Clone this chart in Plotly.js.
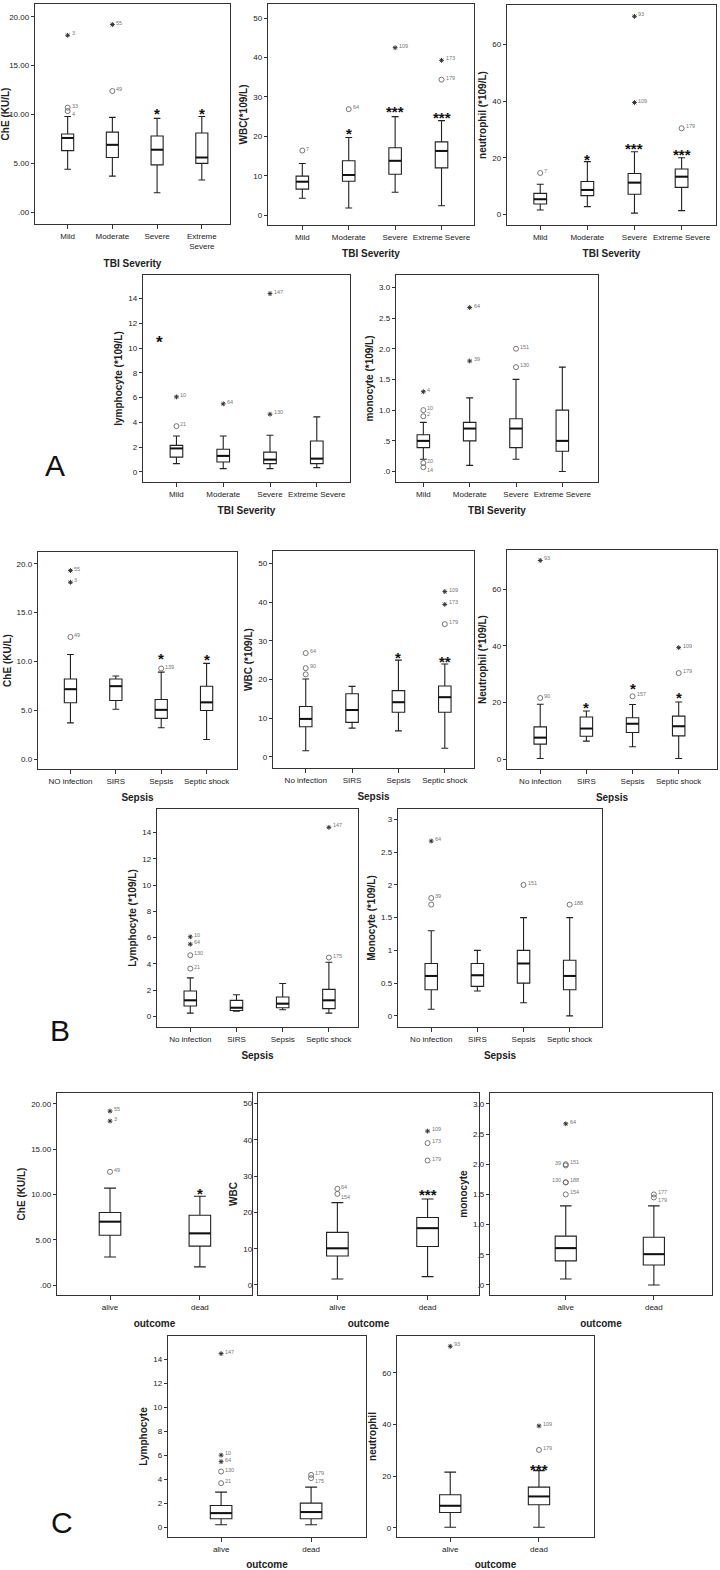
<!DOCTYPE html>
<html>
<head>
<meta charset="utf-8">
<script src="https://cdn.plot.ly/plotly-3.0.1.min.js"></script>
<style>
  body { margin: 0; background: #fff; }
  #chart { width: 720px; height: 1570px; }
</style>
</head>
<body>
<div id="chart"></div>
<script>
// ---- categories / tick labels ----
const tbiCats = ['Mild', 'Moderate', 'Severe', 'Extreme Severe'];
const tbiCatsWrap = ['Mild', 'Moderate', 'Severe', 'Extreme<br>Severe'];
const sepsisCats = ['No infection', 'SIRS', 'Sepsis', 'Septic shock'];
const sepsisCatsNo = ['NO infection', 'SIRS', 'Sepsis', 'Septic shock'];
const outcomeCats = ['alive', 'dead'];

const cheVals = [0, 5, 10, 15, 20];
const cheText2 = ['.00', '5.00', '10.00', '15.00', '20.00'];
const cheText1 = ['0.0', '5.0', '10.0', '15.0', '20.0'];
const wbcVals = [0, 10, 20, 30, 40, 50];
const neuVals = [0, 20, 40, 60];
const lymVals = [0, 2, 4, 6, 8, 10, 12, 14];
const monVals = [0, 0.5, 1, 1.5, 2, 2.5, 3];
const monTextA = ['.0', '.5', '1.0', '1.5', '2.0', '2.5', '3.0'];
const monTextB = ['0', '0.5', '1', '1.5', '2', '2.5', '3'];

// ---- box statistics: [lower whisker, q1, median, q3, upper whisker] ----
// outliers: [group, value, 'o' = outlier | 's' = extreme | 'S' = bold star, case label, label side ('b' below, 'l' left)]
// significance: [group, y, stars]

// A: TBI severity
const cheTbi = [[4.4, 6.3, 7.6, 8.0, 9.8], [3.7, 5.6, 6.9, 8.2, 9.7], [2.0, 4.85, 6.4, 7.8, 9.6], [3.3, 5.0, 5.6, 8.1, 9.8]];
const cheTbiOut = [[0, 18.1, 's', '3'], [0, 10.7, 'o', '33'], [0, 10.35, 'o', '4', 'b'], [1, 19.2, 's', '55'], [1, 12.4, 'o', '49']];
const cheTbiSig = [[2, 10.5, '*'], [3, 10.5, '*']];

const wbcTbi = [[4.3, 6.6, 8.5, 9.9, 13.1], [1.8, 8.6, 10.2, 13.8, 19.7], [5.8, 10.4, 13.8, 17.1, 25.0], [2.4, 12.0, 16.3, 18.6, 24.0]];
const wbcTbiOut = [[0, 16.4, 'o', '7'], [1, 26.9, 'o', '64'], [2, 42.5, 's', '109'], [3, 39.3, 's', '173'], [3, 34.4, 'o', '179']];
const wbcTbiSig = [[1, 21.8, '*'], [2, 27.4, '***'], [3, 25.8, '***']];

const neuTbi = [[1.5, 3.6, 5.3, 7.4, 10.6], [2.7, 6.6, 8.6, 11.6, 18.6], [0.4, 7.1, 11.2, 14.4, 22.1], [1.3, 9.5, 13.3, 16.0, 20.0]];
const neuTbiOut = [[0, 14.6, 'o', '7'], [2, 70.0, 's', '93'], [2, 39.5, 's', '109'], [3, 30.4, 'o', '179']];
const neuTbiSig = [[1, 20.8, '*'], [2, 24.7, '***'], [3, 22.5, '***']];

const lymTbi = [[0.67, 1.2, 1.9, 2.15, 2.9], [0.27, 0.8, 1.3, 1.83, 2.9], [0.27, 0.67, 1.0, 1.6, 2.96], [0.35, 0.67, 1.08, 2.5, 4.45]];
const lymTbiOut = [[-0.36, 10.8, 'S', ''], [0, 6.06, 's', '10'], [0, 3.7, 'o', '21'], [1, 5.5, 's', '64'], [2, 14.4, 's', '147'], [2, 4.66, 's', '130']];
const lymTbiSig = [];

const monTbi = [[0.2, 0.39, 0.5, 0.6, 0.8], [0.1, 0.5, 0.7, 0.8, 1.2], [0.2, 0.39, 0.7, 0.86, 1.5], [0.0, 0.33, 0.5, 1.0, 1.7]];
const monTbiOut = [[0, 1.3, 's', '4'], [0, 1.0, 'o', '10'], [0, 0.9, 'o', '2'], [0, 0.14, 'o', '20'], [0, 0.07, 'o', '14', 'b'], [1, 2.67, 's', '64'], [1, 1.8, 's', '39'], [2, 2.0, 'o', '151'], [2, 1.7, 'o', '130']];
const monTbiSig = [];

// B: sepsis
const cheSep = [[3.7, 5.76, 7.15, 8.2, 10.7], [5.1, 6.0, 7.46, 8.2, 8.5], [3.2, 4.16, 5.04, 6.1, 8.9], [2.0, 4.97, 5.8, 7.46, 9.8]];
const cheSepOut = [[0, 19.3, 's', '55'], [0, 18.1, 's', '3'], [0, 12.5, 'o', '49'], [2, 9.27, 'o', '139']];
const cheSepSig = [[2, 10.7, '*'], [3, 10.6, '*']];

const wbcSep = [[1.55, 7.75, 9.8, 13.0, 20.1], [7.4, 8.9, 12.1, 16.3, 18.2], [6.7, 11.5, 14.1, 17.1, 25.0], [2.2, 11.5, 15.4, 18.3, 24.0]];
const wbcSepOut = [[0, 26.8, 'o', '64'], [0, 22.9, 'o', '90'], [0, 21.3, 'o', ''], [3, 42.7, 's', '109'], [3, 39.4, 's', '173'], [3, 34.3, 'o', '179']];
const wbcSepSig = [[2, 26.8, '*'], [3, 25.6, '**']];

const neuSep = [[0.2, 5.3, 7.6, 11.4, 19.4], [6.35, 8.1, 10.8, 14.9, 17.0], [4.35, 9.4, 12.5, 14.6, 19.3], [0.2, 8.2, 11.6, 15.2, 20.2]];
const neuSepOut = [[0, 70.2, 's', '93'], [0, 21.6, 'o', '90'], [2, 22.2, 'o', '157'], [3, 39.4, 's', '109'], [3, 30.4, 'o', '179']];
const neuSepSig = [[1, 19.6, '*'], [2, 26.5, '*'], [3, 23.2, '*']];

const lymSep = [[0.25, 0.79, 1.22, 1.93, 2.93], [0.4, 0.45, 0.66, 1.22, 1.65], [0.5, 0.66, 0.97, 1.48, 2.5], [0.25, 0.59, 1.22, 2.06, 4.12]];
const lymSepOut = [[0, 6.06, 's', '10'], [0, 5.5, 's', '64'], [0, 4.66, 'o', '130'], [0, 3.64, 'o', '21'], [3, 14.4, 's', '147'], [3, 4.48, 'o', '175']];
const lymSepSig = [];

const monSep = [[0.1, 0.4, 0.61, 0.8, 1.3], [0.38, 0.45, 0.62, 0.8, 1.0], [0.2, 0.5, 0.8, 1.0, 1.5], [0.0, 0.4, 0.61, 0.85, 1.5]];
const monSepOut = [[0, 2.67, 's', '64'], [0, 1.8, 'o', '39'], [0, 1.7, 'o', ''], [2, 2.0, 'o', '151'], [3, 1.7, 'o', '188']];
const monSepSig = [];

// C: outcome
const cheOut = [[3.1, 5.5, 7.0, 8.0, 10.7], [2.0, 4.3, 5.7, 7.7, 9.8]];
const cheOutOut = [[0, 19.2, 's', '55'], [0, 18.1, 's', '3'], [0, 12.5, 'o', '49']];
const cheOutSig = [[1, 10.5, '*']];

const wbcOut = [[1.66, 8.0, 10.1, 14.5, 22.7], [2.3, 10.6, 15.65, 18.6, 23.7]];
const wbcOutOut = [[0, 26.5, 'o', '64'], [0, 25.1, 'o', '154', 'b'], [1, 42.4, 's', '109'], [1, 39.1, 'o', '173'], [1, 34.3, 'o', '179']];
const wbcOutSig = [[1, 26.0, '***']];

const monOut = [[0.1, 0.4, 0.61, 0.81, 1.31], [0.0, 0.33, 0.51, 0.79, 1.31]];
const monOutOut = [[0, 2.67, 's', '64'], [0, 2.0, 'o', '151'], [0, 1.98, 'o', '39', 'l'], [0, 1.7, 'o', '188'], [0, 1.7, 'o', '130', 'l'], [0, 1.5, 'o', '154'], [1, 1.5, 'o', '177'], [1, 1.45, 'o', '179', 'b']];
const monOutSig = [];

const lymOut = [[0.19, 0.69, 1.16, 1.8, 2.91], [0.19, 0.69, 1.25, 2.0, 3.33]];
const lymOutOut = [[0, 14.47, 's', '147'], [0, 6.0, 's', '10'], [0, 5.46, 's', '64'], [0, 4.63, 'o', '130'], [0, 3.66, 'o', '21'], [1, 4.35, 'o', '179'], [1, 4.08, 'o', '175', 'b']];
const lymOutSig = [];

const neuOut = [[0.26, 6.0, 8.6, 12.85, 21.6], [0.26, 9.0, 12.2, 15.8, 22.2]];
const neuOutOut = [[0, 70.3, 's', '93'], [1, 39.5, 's', '109'], [1, 30.2, 'o', '179']];
const neuOutSig = [[1, 24.2, '***']];

// ---- page setup ----
const W = 720, H = 1570;
const SANS = 'Liberation Sans, Arial, sans-serif';

// frame = [left, right, top, bottom] of each plot area in px
const panels = [
  {stats: cheTbi, out: cheTbiOut, sig: cheTbiSig, cats: tbiCatsWrap, frame: [35, 230, 4, 224], xr: [-0.73, 3.63], yr: [-1.2, 21.3], tv: cheVals, tt: cheText2, ytitle: 'ChE (KU/L)', xtitle: 'TBI Severity'},
  {stats: wbcTbi, out: wbcTbiOut, sig: wbcTbiSig, cats: tbiCats, frame: [268, 474, 4, 225], xr: [-0.74, 3.7], yr: [-2.5, 53.6], tv: wbcVals, ytitle: 'WBC(*109/L)', xtitle: 'TBI Severity'},
  {stats: neuTbi, out: neuTbiOut, sig: neuTbiSig, cats: tbiCats, frame: [507, 716, 5, 225], xr: [-0.705, 3.73], yr: [-3.8, 74], tv: neuVals, ytitle: 'neutrophil (*109/L)', xtitle: 'TBI Severity'},
  {stats: lymTbi, out: lymTbiOut, sig: lymTbiSig, cats: tbiCats, frame: [143, 350, 275, 482], xr: [-0.715, 3.71], yr: [-0.81, 15.9], tv: lymVals, ytitle: 'lymphocyte (*109/L)', xtitle: 'TBI Severity'},
  {stats: monTbi, out: monTbiOut, sig: monTbiSig, cats: tbiCats, frame: [396, 598, 275, 482], xr: [-0.59, 3.77], yr: [-0.17, 3.2], tv: monVals, tt: monTextA, ytitle: 'monocyte (*109/L)', xtitle: 'TBI Severity'},

  {stats: cheSep, out: cheSepOut, sig: cheSepSig, cats: sepsisCatsNo, frame: [38, 237, 552, 769], xr: [-0.715, 3.67], yr: [-1.02, 21.2], tv: cheVals, tt: cheText1, ytitle: 'ChE (KU/L)', xtitle: 'Sepsis'},
  {stats: wbcSep, out: wbcSepOut, sig: wbcSepSig, cats: sepsisCats, frame: [273, 474, 551, 768], xr: [-0.706, 3.63], yr: [-2.9, 53.2], tv: wbcVals, ytitle: 'WBC (*109/L)', xtitle: 'Sepsis'},
  {stats: neuSep, out: neuSepOut, sig: neuSepSig, cats: sepsisCats, frame: [507, 717, 550, 769], xr: [-0.72, 3.83], yr: [-3.5, 73.9], tv: neuVals, ytitle: 'Neutrophil (*109/L)', xtitle: 'Sepsis'},
  {stats: lymSep, out: lymSepOut, sig: lymSepSig, cats: sepsisCats, frame: [157, 358, 809, 1027], xr: [-0.72, 3.63], yr: [-0.81, 15.8], tv: lymVals, ytitle: 'Lymphocyte (*109/L)', xtitle: 'Sepsis'},
  {stats: monSep, out: monSepOut, sig: monSepSig, cats: sepsisCats, frame: [398, 602, 809, 1027], xr: [-0.72, 3.7], yr: [-0.17, 3.16], tv: monVals, tt: monTextB, ytitle: 'Monocyte (*109/L)', xtitle: 'Sepsis'},

  {stats: cheOut, out: cheOutOut, sig: cheOutSig, cats: outcomeCats, frame: [57, 252, 1093, 1295], xr: [-0.59, 1.58], yr: [-1.1, 21.2], tv: cheVals, tt: cheText2, ytitle: 'ChE (KU/L)', xtitle: 'outcome'},
  {stats: wbcOut, out: wbcOutOut, sig: wbcOutSig, cats: outcomeCats, frame: [258, 479, 1093, 1295], xr: [-0.88, 1.57], yr: [-2.76, 52.9], tv: wbcVals, ytitle: 'WBC', xtitle: 'outcome'},
  {stats: monOut, out: monOutOut, sig: monOutSig, cats: outcomeCats, frame: [490, 712, 1093, 1295], xr: [-0.86, 1.66], yr: [-0.166, 3.18], tv: monVals, tt: monTextA, ytitle: 'monocyte', xtitle: 'outcome'},
  {stats: lymOut, out: lymOutOut, sig: lymOutSig, cats: outcomeCats, frame: [168, 366, 1336, 1537], xr: [-0.59, 1.61], yr: [-0.83, 15.94], tv: lymVals, ytitle: 'Lymphocyte', xtitle: 'outcome'},
  {stats: neuOut, out: neuOutOut, sig: neuOutSig, cats: outcomeCats, frame: [397, 594, 1336, 1537], xr: [-0.6, 1.62], yr: [-3.5, 74.3], tv: neuVals, ytitle: 'neutrophil', xtitle: 'outcome'}
];

const traces = [];
const annotations = [];
const layout = {
  width: W, height: H,
  margin: {l: 0, r: 0, t: 0, b: 0},
  paper_bgcolor: '#fff', plot_bgcolor: '#fff',
  showlegend: false,
  font: {family: SANS, color: '#222'}
};

panels.forEach((p, i) => {
  const n = i === 0 ? '' : String(i + 1);
  const xa = 'x' + n, ya = 'y' + n;
  const [l, r, t, b] = p.frame;
  const bw = p.cats.length > 2 ? 0.27 : 0.24;
  const pos = p.cats.map((c, k) => k);

  layout['xaxis' + n] = {
    domain: [l / W, r / W], anchor: ya, range: p.xr, fixedrange: true,
    tickvals: pos, ticktext: p.cats, ticks: 'outside', ticklen: 4, tickcolor: '#333',
    tickfont: {family: SANS, size: 8, color: '#222'},
    showline: true, mirror: true, linecolor: '#333', linewidth: 1.2,
    showgrid: false, zeroline: false,
    title: {text: p.xtitle, standoff: 9, font: {family: SANS, size: 10, color: '#222', weight: 'bold'}}
  };
  layout['yaxis' + n] = {
    domain: [1 - b / H, 1 - t / H], anchor: xa, range: p.yr, fixedrange: true,
    tickvals: p.tv, ticktext: p.tt || p.tv.map(String), ticks: 'outside', ticklen: 3, tickcolor: '#333',
    tickfont: {family: SANS, size: 8, color: '#222'},
    showline: true, mirror: true, linecolor: '#333', linewidth: 1.2,
    showgrid: false, zeroline: false,
    title: {text: p.ytitle, standoff: 3, font: {family: SANS, size: 10, color: '#222', weight: 'bold'}}
  };

  traces.push({
    type: 'box', xaxis: xa, yaxis: ya, x: pos,
    lowerfence: p.stats.map(s => s[0]), q1: p.stats.map(s => s[1]),
    median: p.stats.map(s => s[2]), q3: p.stats.map(s => s[3]),
    upperfence: p.stats.map(s => s[4]),
    width: bw, whiskerwidth: 0.55, boxpoints: false,
    fillcolor: '#fff', line: {color: '#222', width: 1.1}, hoverinfo: 'skip'
  });

  // thicker median bar, as SPSS draws it
  const mx = [], my = [];
  p.stats.forEach((s, k) => { mx.push(k - bw / 2, k + bw / 2, null); my.push(s[2], s[2], null); });
  traces.push({type: 'scatter', mode: 'lines', xaxis: xa, yaxis: ya, x: mx, y: my,
    line: {color: '#111', width: 2}, hoverinfo: 'skip'});

  const circ = p.out.filter(o => o[2] === 'o');
  const ext = p.out.filter(o => o[2] === 's');
  traces.push({type: 'scatter', mode: 'markers', xaxis: xa, yaxis: ya,
    x: circ.map(o => o[0]), y: circ.map(o => o[1]),
    marker: {symbol: 'circle-open', size: 5, color: '#666', line: {width: 0.9}}, hoverinfo: 'skip'});
  traces.push({type: 'scatter', mode: 'markers', xaxis: xa, yaxis: ya,
    x: ext.map(o => o[0]), y: ext.map(o => o[1]),
    marker: {symbol: 'asterisk-open', size: 4, color: '#333', line: {width: 1, color: '#333'}}, hoverinfo: 'skip'});

  p.out.forEach(o => {
    if (o[2] === 'S') {
      annotations.push({xref: xa, yref: ya, x: o[0], y: o[1], text: '*', showarrow: false,
        yanchor: 'middle', yshift: -4, font: {family: SANS, size: 17, color: '#111', weight: 'bold'}});
    } else if (o[3]) {
      const side = o[4] || '';
      annotations.push({xref: xa, yref: ya, x: o[0], y: o[1], text: o[3], showarrow: false,
        xanchor: side === 'l' ? 'right' : 'left',
        yanchor: side === 'b' ? 'top' : 'bottom',
        xshift: side === 'l' ? -3 : 2, yshift: side === 'b' ? 2 : -3,
        font: {family: SANS, size: 5.5, color: '#777'}});
    }
  });

  p.sig.forEach(s => {
    annotations.push({xref: xa, yref: ya, x: s[0], y: s[1], text: s[2], showarrow: false,
      yanchor: 'middle', yshift: -4, font: {family: SANS, size: 15, color: '#111', weight: 'bold'}});
  });
});

// panel letters
[['A', 55, 465], ['B', 60, 1030], ['C', 62, 1522]].forEach(([txt, px, py]) => {
  annotations.push({xref: 'paper', yref: 'paper', x: px / W, y: 1 - py / H, text: txt, showarrow: false,
    xanchor: 'center', yanchor: 'middle', font: {family: SANS, size: 30, color: '#111'}});
});

layout.annotations = annotations;
Plotly.newPlot('chart', traces, layout, {staticPlot: true, displayModeBar: false});
</script>
</body>
</html>
